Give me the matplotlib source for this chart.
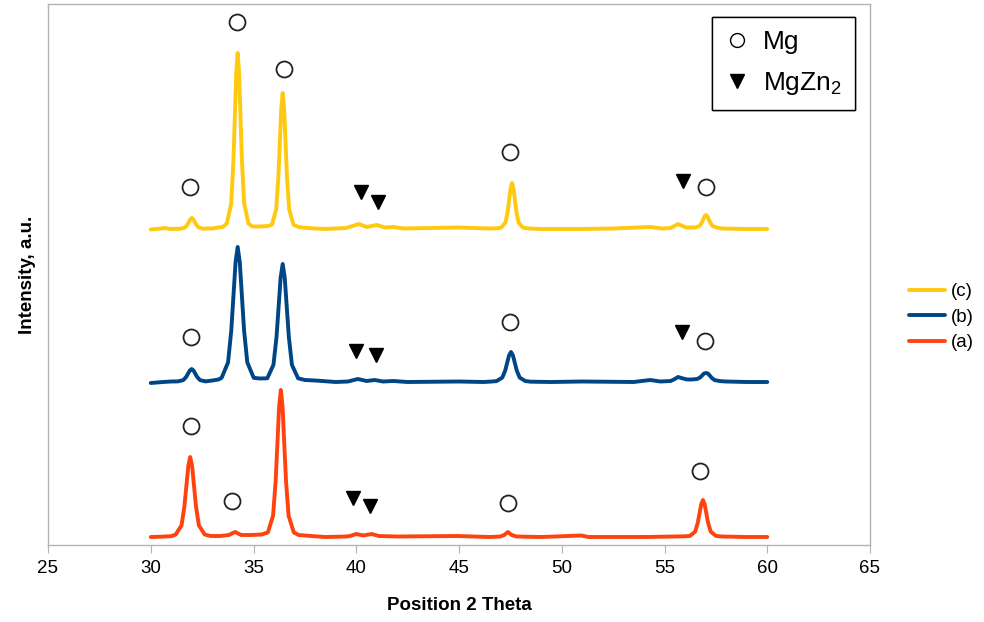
import matplotlib
matplotlib.use("Agg")
import matplotlib.pyplot as plt
from matplotlib.lines import Line2D

plt.rcParams["font.family"] = ["Liberation Sans", "DejaVu Sans"]
plt.rcParams["mathtext.fontset"] = "custom"
plt.rcParams["mathtext.rm"] = "Liberation Sans"
plt.rcParams["mathtext.it"] = "Liberation Sans"

# --- data (2-theta in degrees, intensity in a.u.) ---
a_x = [30.0, 30.5, 31.0,
       31.215, 31.497, 31.638, 31.732, 31.826, 31.92, 32.014, 32.108, 32.202, 32.343, 32.625,
       32.9, 33.4, 33.8, 34.1, 34.4, 34.9, 35.4,
       35.7, 35.952, 36.078, 36.162, 36.246, 36.33, 36.414, 36.498, 36.582, 36.708, 36.96,
       37.2, 37.8, 38.5, 39.5, 39.7, 40.0, 40.35, 40.75, 41.1, 42.0, 44.9, 46.5, 47.0, 47.2, 47.38,
       47.56, 47.8, 49.0, 50.95, 51.3, 54.0, 55.5, 56.0,
       56.24, 56.492, 56.618, 56.702, 56.786, 56.87, 56.954, 57.038, 57.122, 57.248, 57.5,
       57.8, 58.3, 59.0, 60.0]
a_y = [8, 8.3, 8.8,
       10.5, 19.6, 38.5, 58.6, 78.8, 88, 78.8, 58.6, 38.5, 19.6, 10.5,
       9, 9, 10, 13, 10, 10, 10.5,
       12.6, 29.3, 64, 100.9, 138.1, 155, 138.1, 100.9, 64, 29.3, 12.6,
       10, 9, 8, 8.5, 9, 11, 9.5, 11, 9, 8.5, 9, 8, 8.5, 10, 13,
       10, 8.5, 8, 9.5, 8, 8, 8.5, 8.7,
       9.1, 13.4, 22.1, 31.4, 40.7, 45, 40.7, 31.4, 22.1, 13.4, 9.1,
       8.5, 8.3, 8, 8]

b_x = [30.0, 30.6, 31.0,
       31.315, 31.585, 31.72, 31.81, 31.9, 31.99, 32.08, 32.17, 32.26, 32.395, 32.665,
       33.0, 33.3,
       33.45, 33.762, 33.918, 34.022, 34.126, 34.23, 34.334, 34.438, 34.542, 34.698, 35.01,
       35.3,
       35.67, 35.97, 36.12, 36.22, 36.32, 36.42, 36.52, 36.62, 36.72, 36.87, 37.17,
       37.5, 38.0, 39.0, 39.6, 40.08, 40.5, 40.9, 41.3, 41.8, 42.5, 45.0, 46.2, 46.6,
       46.825, 47.107, 47.248, 47.342, 47.436, 47.53, 47.624, 47.718, 47.812, 47.953, 48.235,
       48.5, 49.5, 51.0, 53.5, 54.3, 54.8, 55.3, 55.5, 55.66, 55.85, 56.1,
       56.3, 56.588, 56.732, 56.828, 56.924, 57.02, 57.116, 57.212, 57.308, 57.452, 57.74,
       58.0, 59.0, 60.0]
b_y = [162, 163, 163.5,
       163.6, 164.9, 168, 171.2, 174.5, 176, 174.5, 171.2, 168, 164.9, 163.6,
       164.5, 165.5,
       167.2, 182.6, 214.4, 248.3, 282.5, 298, 282.5, 248.3, 214.4, 182.6, 167.2,
       166.5,
       166.7, 180.1, 208, 237.6, 267.4, 281, 267.4, 237.6, 208, 180.1, 166.7,
       165, 164.5, 163, 163.5, 166, 164, 165, 163.5, 164, 163, 163.5, 163, 163.5,
       163.9, 167.4, 174.4, 182, 189.6, 193, 189.6, 182, 174.4, 167.4, 163.9,
       163.3, 163, 163.5, 163, 165, 163.5, 164, 166, 168, 166.8, 165.5,
       165.5, 166, 167.5, 169.5, 171.5, 172, 171.5, 169.2, 166.9, 164.8, 163.8,
       163.5, 163, 163]

c_x = [30.0, 30.5, 30.7, 30.95, 31.25,
       31.46, 31.676, 31.784, 31.856, 31.928, 32.0, 32.072, 32.144, 32.216, 32.324, 32.54,
       32.75, 33.0, 33.25, 33.5,
       33.705, 33.915, 34.02, 34.09, 34.16, 34.23, 34.3, 34.37, 34.44, 34.545, 34.755,
       34.95, 35.3, 35.7,
       35.895, 36.105, 36.21, 36.28, 36.35, 36.42, 36.49, 36.56, 36.63, 36.735, 36.945,
       37.2, 37.6, 38.5, 39.5, 40.13, 40.5, 41.0, 41.4, 41.8, 42.3, 44.95, 46.5, 46.9,
       47.055, 47.265, 47.37, 47.44, 47.51, 47.58, 47.65, 47.72, 47.79, 47.895, 48.105,
       48.4, 49.0, 51.0, 52.5, 54.3, 54.9, 55.3, 55.66, 56.05, 56.35,
       56.48, 56.696, 56.804, 56.876, 56.948, 57.02, 57.092, 57.164, 57.236, 57.344, 57.56,
       57.8, 59.0, 60.0]
c_y = [315.5, 316.5, 317, 316, 316.2,
       316.3, 317.6, 320.2, 323, 325.7, 327, 325.7, 323, 320.2, 317.6, 316.3,
       316.5, 316.5, 317.5, 318,
       321.5, 341.5, 383, 427.2, 471.8, 492, 471.8, 427.2, 383, 341.5, 321.5,
       318.5, 318.5, 319,
       320.2, 335.7, 367.8, 402, 436.4, 452, 436.4, 402, 367.8, 335.7, 320.2,
       318, 317, 316, 317, 321, 318, 320, 317.5, 318, 316.5, 317.5, 316.5, 316.8,
       317.4, 322.7, 333.5, 345.1, 356.7, 362, 356.7, 345.1, 333.5, 322.7, 317.4,
       316.5, 316, 316, 316.5, 318, 316.5, 317, 321, 317.5, 317.5,
       317.4, 318.9, 322, 325.2, 328.5, 330, 328.5, 325.2, 322, 318.9, 317.4,
       316.5, 316, 316]

# phase markers (position, height)
mg_x = [31.91, 34.20, 36.48, 47.48, 57.02, 31.96, 47.48, 56.97, 31.96, 33.95, 47.38, 56.73]
mg_y = [358, 523, 476, 393, 358, 208, 223, 204, 119, 44, 42, 74]
mgzn2_x = [40.22, 41.06, 55.90, 39.99, 40.96, 55.84, 39.84, 40.67]
mgzn2_y = [353, 343, 364, 194, 190, 213, 47, 39]

series_labels = ["(c)", "(b)", "(a)"]
colors = {"(a)": "#ff420e", "(b)": "#004586", "(c)": "#ffc910"}
curves = {"(a)": (a_x, a_y), "(b)": (b_x, b_y), "(c)": (c_x, c_y)}

fig = plt.figure(figsize=(9.84, 6.22), dpi=100)
ax = fig.add_axes([48 / 984, 77 / 622, 822 / 984, 541 / 622])

lines = {}
for lab in ["(a)", "(b)", "(c)"]:
    x, y = curves[lab]
    lines[lab], = ax.plot(x, y, color=colors[lab], lw=2.8,
                          solid_joinstyle="round", solid_capstyle="round")

ax.plot(mg_x, mg_y, "o", ls="none", ms=11.5, mfc="white", mec="#222222", mew=1.3)
ax.plot(mgzn2_x, mgzn2_y, "v", ls="none", ms=10.5, color="black")

ax.set_xlim(25, 65)
ax.set_ylim(0, 541)
ax.set_xticks(range(25, 66, 5))
ax.set_yticks([])
for sp in ax.spines.values():
    sp.set_color("#b3b3b3")
    sp.set_linewidth(1.0)
ax.tick_params(axis="x", direction="out", length=6, color="#b3b3b3", labelsize=13.5, pad=5)

ax.set_xlabel("Position 2 Theta", fontsize=13.5, fontweight="bold", labelpad=14)
ax.set_ylabel("Intensity, a.u.", fontsize=13.5, fontweight="bold", labelpad=9)

phase_leg = ax.legend(
    [Line2D([], [], marker="o", ls="none", ms=10, mfc="white", mec="black", mew=1.0),
     Line2D([], [], marker="v", ls="none", ms=10, color="black")],
    ["Mg", "MgZn$_{2}$"],
    loc="upper right", bbox_to_anchor=(0.982, 0.976), borderaxespad=0, fontsize=19,
    frameon=True, fancybox=False, edgecolor="black", framealpha=1,
    handlelength=0.9, handletextpad=0.55, labelspacing=0.6, borderpad=0.5,
)
phase_leg.get_frame().set_linewidth(1.0)
ax.add_artist(phase_leg)

fig.legend(
    [lines[l] for l in series_labels], series_labels,
    loc="center left", bbox_to_anchor=(0.907, 0.49), fontsize=13.5,
    frameon=False, handlelength=1.9, handletextpad=0.3, labelspacing=0.45,
)

fig.savefig("out.png", dpi=100)
